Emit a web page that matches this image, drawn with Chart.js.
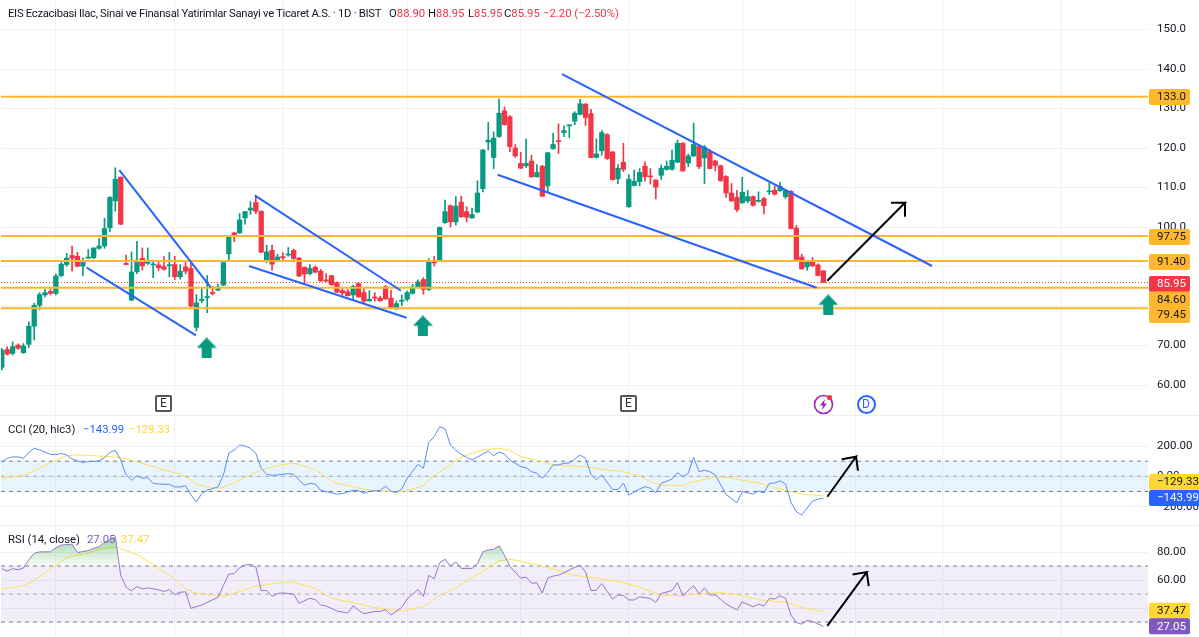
<!DOCTYPE html>
<html>
<head>
<meta charset="utf-8">
<title>EIS</title>
<script src="https://cdn.jsdelivr.net/npm/chart.js@4"></script>
<style>
    html, body { margin: 0; padding: 0; background: #fff; }
    body { width: 1199px; height: 637px; overflow: hidden; position: relative; font-family: Roboto, sans-serif; color: #131722; }
    canvas { position: absolute; left: 1px; }
    .sep { position: absolute; left: 0; width: 1199px; height: 1px; background: #eceef2; }
    .txt { position: absolute; font-size: 11.3px; line-height: 16px; white-space: nowrap; }
    .red { color: #f23645; }
    .ev { position: absolute; box-sizing: border-box; text-align: center; font-size: 12px; background: #fff; }
    .ev-e { width: 17px; height: 17px; top: 395px; border: 2px solid #555; border-radius: 2px; line-height: 13px; color: #333; }
    .ev-d { width: 19px; height: 19px; top: 394.5px; left: 856.5px; border: 2px solid #2962ff; border-radius: 50%; line-height: 15px; color: #2962ff; }
</style>
</head>
<body>
<canvas id="priceChart" width="1198" height="415" style="top:0"></canvas>
<div class="sep" style="top:415px"></div>
<canvas id="cciChart" width="1198" height="109" style="top:416px"></canvas>
<div class="sep" style="top:525px"></div>
<canvas id="rsiChart" width="1198" height="111" style="top:526px"></canvas>

<div class="txt" style="top:6px;left:8px;letter-spacing:-0.3px">EIS Eczacibasi Ilac, Sinai ve Finansal Yatirimlar Sanayi ve Ticaret A.S. · 1D · BIST</div>
<div class="txt" style="top:6px;left:389px">O<span class="red">88.90</span></div>
<div class="txt" style="top:6px;left:428px">H<span class="red">88.95</span></div>
<div class="txt" style="top:6px;left:468px">L<span class="red">85.95</span></div>
<div class="txt" style="top:6px;left:504px">C<span class="red">85.95</span></div>
<div class="txt red" style="top:6px;left:543px">−2.20 (−2.50%)</div>
<div class="txt" style="top:422px;left:8px">CCI (20, hlc3)</div>
<div class="txt" style="top:422px;left:83px;color:#2962ff">−143.99</div>
<div class="txt" style="top:422px;left:129px;color:#fdd835">−129.33</div>
<div class="txt" style="top:532px;left:8px">RSI (14, close)</div>
<div class="txt" style="top:532px;left:87px;color:#7e57c2">27.05</div>
<div class="txt" style="top:532px;left:121px;color:#fdd835">37.47</div>

<div class="ev ev-e" style="left:155px">E</div>
<div class="ev ev-e" style="left:620px">E</div>
<svg style="position:absolute;left:813px;top:394px" width="22" height="21" viewBox="0 0 22 21">
    <circle cx="10.5" cy="10.5" r="9" fill="#fff" stroke="#9c27b0" stroke-width="1.6"/>
    <path d="M12 5 L7 11.5 H10 L9 16 L14 9.5 H11 Z" fill="#9c27b0"/>
    <circle cx="16.5" cy="3.5" r="2.6" fill="#f23645"/>
</svg>
<div class="ev ev-d">D</div>

<script>
const opens = [64.5,69.0,68.0,70.1,68.2,70.3,74.9,80.2,82.8,83.7,83.2,87.7,90.5,92.8,92.6,90.1,92.1,92.2,94.6,95.2,99.8,106.6,112.6,90.8,81.5,88.7,92.1,90.8,90.4,90.4,
    90.0,90.2,90.5,87.4,89.9,89.5,74.6,81.4,82.1,83.4,84.0,85.3,93.2,98.5,98.5,102.3,104.3,106.2,104.0,91.6,94.1,91.5,92.5,92.9,94.1,92.1,89.8,88.2,89.8,88.8,
    86.6,87.7,85.9,83.9,83.6,82.8,85.7,83.4,81.3,82.3,82.0,84.9,82.0,79.6,81.2,81.7,83.2,84.9,86.7,84.2,91.5,91.5,101.1,105.4,101.3,106.3,103.9,102.3,103.8,109.7,
    121.5,117.6,122.9,129.4,127.9,120.0,116.1,115.5,116.7,112.7,115.4,110.4,119.8,121.8,123.9,125.6,126.8,128.5,131.1,128.7,117.6,119.3,123.4,119.0,112.2,116.4,105.1,110.5,111.5,115.4,
    112.9,111.9,113.1,114.6,114.6,116.4,121.2,116.2,118.0,120.5,117.5,119.1,116.7,115.5,112.8,108.6,107.5,106.1,106.6,107.7,106.5,107.2,108.9,109.3,109.2,107.7,109.0,99.7,92.4,89.9,
    91.2,90.4,88.90];
const highs = [69.3,69.7,70.9,70.4,70.5,76.0,80.7,83.4,84.2,84.4,88.1,91.2,93.3,95.2,93.6,92.2,94.3,94.7,97.1,102.2,107.7,115.0,112.7,92.9,93.7,96.4,94.7,94.7,91.6,91.2,
    92.5,93.6,92.6,90.5,91.2,91.0,82.9,84.7,87.7,85.0,85.5,91.0,97.9,98.7,103.4,104.0,106.4,107.9,104.1,95.4,95.4,93.1,93.5,94.8,94.4,92.3,89.9,90.5,90.2,89.3,
    88.2,87.8,86.1,84.7,84.2,85.3,85.9,84.4,83.9,83.4,82.5,85.2,84.0,81.3,82.8,83.8,85.5,86.6,87.2,92.0,92.6,100.0,106.8,105.6,107.7,107.8,105.1,104.8,111.7,119.6,
    126.5,124.1,132.4,130.4,128.3,120.9,118.9,122.3,118.2,115.8,115.6,118.9,123.7,126.1,125.6,125.9,129.2,132.3,131.3,129.8,122.3,124.4,123.6,119.1,115.8,121.2,113.3,114.4,114.8,116.5,
    114.8,112.0,115.7,116.7,119.5,122.0,121.4,118.5,126.3,120.7,120.7,119.6,116.9,115.7,113.0,111.0,109.3,112.6,109.3,107.9,108.9,107.5,111.2,110.4,111.3,109.5,109.2,100.4,93.1,91.5,
    92.3,90.7,88.95];
const lows = [63.8,67.6,67.6,69.0,68.0,69.5,71.4,79.1,82.3,82.8,82.8,87.4,90.1,88.8,89.9,87.7,92.0,92.0,94.4,94.6,98.8,104.0,100.6,90.4,81.3,88.2,89.1,90.5,87.2,88.9,
    89.1,87.4,86.7,86.8,88.1,79.8,73.7,80.8,78.3,82.8,83.9,85.1,91.5,96.3,98.4,100.7,103.2,103.4,93.5,91.0,89.1,91.2,91.4,92.6,91.8,87.4,85.5,87.9,88.4,86.2,
    86.1,85.2,83.4,82.7,82.5,81.7,82.2,80.9,81.2,81.2,81.2,81.7,79.5,79.1,80.1,81.3,83.0,84.7,83.0,83.9,90.1,91.4,100.9,100.0,100.5,102.4,101.3,102.2,103.6,108.9,
    119.5,114.8,122.7,125.8,119.1,117.6,114.8,115.1,112.6,112.6,107.7,108.9,119.7,118.6,122.9,122.6,125.9,128.4,125.7,117.5,117.5,118.2,117.1,111.9,111.0,114.0,105.0,110.4,110.4,111.6,
    110.9,107.1,112.0,114.4,114.4,116.3,114.1,115.3,117.8,114.8,111.0,114.7,114.2,111.6,107.5,106.5,103.9,106.0,106.1,105.3,106.3,103.3,108.2,108.1,109.0,107.2,99.5,91.7,89.3,89.1,
    90.0,87.6,85.95];
const closes = [68.8,67.8,69.7,69.3,69.9,74.9,80.2,82.9,83.4,83.2,87.6,90.6,92.1,92.1,90.1,91.4,92.4,94.7,95.2,99.6,107.5,112.1,100.7,90.5,88.6,91.6,90.2,91.0,90.5,89.7,
    89.3,90.4,87.4,88.8,88.8,80.0,80.8,81.7,82.4,83.2,84.8,91.0,97.8,97.6,101.8,103.9,104.8,104.0,93.6,93.7,90.6,92.4,92.2,93.1,92.0,87.6,88.1,89.5,88.6,86.4,
    86.3,85.4,83.5,83.3,82.6,85.0,82.3,81.2,81.7,82.0,81.3,81.8,79.7,80.6,81.5,83.4,84.8,86.1,84.2,91.5,90.9,99.9,103.9,101.3,105.3,102.6,102.5,103.2,108.6,119.5,
    122.0,122.5,128.8,125.9,120.3,118.0,114.9,116.1,112.7,113.8,107.8,118.8,120.9,121.6,124.4,125.8,128.8,131.2,127.7,117.6,118.5,123.9,117.3,112.0,114.9,114.6,112.1,111.6,113.8,112.7,
    112.7,110.1,114.9,115.4,116.9,121.2,114.2,118.0,120.9,115.3,120.2,114.8,115.6,111.7,108.6,106.6,104.4,108.8,107.7,105.5,106.7,105.4,109.1,108.3,110.3,109.2,99.6,91.8,89.4,91.1,
    90.2,87.7,85.95];

const levelValues = [133.0, 97.75, 91.40, 84.60, 79.45];
const lastPrice = 85.95;
const priceTicks = [150, 140, 130, 120, 110, 100, 90, 80, 70, 60];
const priceTickLabels = ['150.0', '140.0', '130.0', '120.0', '110.0', '100.0', '90.00', '80.00', '70.00', '60.00'];
const gridIndexes = [10, 32, 52, 75, 96, 116, 137, 158, 174, 196];

// channel lines and arrows, as [bar index, price]
const trendLines = [
    [[21.74, 114.43], [38.65, 84.73]],
    [[15.71, 89.7], [35.93, 72.58]],
    [[46.79, 108.03], [73.86, 83.87]],
    [[45.74, 90.13], [74.91, 77.04]],
    [[91.75, 113.24], [150.77, 84.63]],
    [[103.65, 138.73], [172.1, 90.13]]
];
const priceArrow = [[152.73, 86.4], [167.1, 106.15], [164.5, 106.15], [167.1, 106.15], [167.1, 102.6]];
const buyArrowX = [37.9, 77.9, 152.9];
const buyArrowY = [69.4, 75.0, 80.3];

const cciX = [0,1,2,3,4,5,6,7,9,10,11,12,13,15,16,18,19,20,21,22,23,24,25,26,27,28,29,31,32,33,34,35,36,37,38,40,41,42,43,44,45,46,47,48,49,50,51,53,54,55,56,57,58,59,60,62,63,65,66,67,68,70,71,72,73,74,75,77,78,79,80,81,82,83,84,85,86,87,89,90,91,92,93,94,96,97,98,99,100,101,102,103,104,105,107,108,109,110,111,113,114,115,116,118,119,120,121,122,124,125,126,127,128,129,130,131,132,134,136,137,139,140,141,142,143,144,145,146,147,148,150,151,152];
const cciValues = [92,119,128,128,119,158,185,174,145,143,150,141,114,92,97,101,123,158,172,108,9,-26,4,-13,-9,-46,-51,-53,-70,-70,-62,-123,-169,-114,-92,-70,9,154,172,207,200,185,152,53,13,7,9,18,13,-24,-59,-46,-51,-92,-101,-117,-114,-92,-95,-112,-99,-92,-66,-97,-106,-84,-13,79,53,224,262,326,315,207,172,145,125,108,147,167,136,161,147,108,64,57,31,20,-13,26,75,75,86,88,141,119,13,-24,9,-86,-88,-44,-123,-84,-68,-79,-108,-46,-18,24,-2,20,125,31,40,31,9,-119,-174,-101,-117,-97,-110,-46,-44,-29,-51,-172,-233,-255,-163,-150,-143.99];
const cciMaX = [0,2,4,6,8,10,12,14,18,22,25,28,30,33,35,36,38,40,41,43,45,47,49,52,54,55,58,61,62,65,68,71,73,75,78,79,81,83,84,86,89,92,94,96,99,101,103,108,111,115,118,120,122,126,128,130,132,135,137,141,143,145,148,150,152];
const cciMaValues = [-13,-4,7,37,70,108,136,141,134,125,97,64,42,15,-24,-53,-68,-79,-73,-44,-9,26,53,77,86,79,42,-29,-44,-68,-92,-97,-106,-92,-62,-24,31,75,108,141,174,185,172,130,108,84,73,64,46,31,2,-35,-59,-59,-35,-20,-2,-11,-26,-51,-75,-92,-117,-123,-129.33];
const cciTicks = [200, 0, -200];
const cciTickLabels = ['200.00', '0.00', '−200.00'];
const cciBands = [100, 0, -100];
const cciArrow = [[152.73, -134.7], [158.04, 129.4], [155.4, 112.2], [158.04, 129.4], [158.4, 37]];

const rsiX = [0,1,2,3,4,5,6,7,9,10,11,13,14,16,17,18,19,21,22,23,24,25,26,27,29,30,31,32,33,34,35,37,38,40,41,42,43,44,45,46,47,48,49,50,51,52,54,55,57,58,59,60,62,64,65,66,67,69,70,71,72,74,75,77,78,79,80,81,82,83,84,85,87,88,89,90,91,92,93,94,96,97,98,99,100,101,102,103,104,106,107,108,109,110,111,113,114,115,116,117,118,120,121,122,124,125,126,128,129,130,131,132,134,136,137,139,140,141,142,143,144,145,146,147,148,149,150,152];
const rsiValues = [68.1,66.4,68.1,67.4,68.6,74.6,79.1,80.1,80.1,83.0,84.9,85.6,79.6,81.0,82.7,83.7,86.8,90.9,63.3,54.9,52.3,55.4,53.7,54.4,53.0,51.8,53.2,49.6,51.3,51.6,39.8,42.2,44.1,47.7,56.1,64.3,64.5,68.8,70.7,71.2,69.3,52.5,52.5,48.4,50.4,50.8,49.9,43.4,47.0,46.0,42.2,41.5,37.9,36.5,41.7,38.4,36.0,37.6,37.6,38.8,35.0,40.5,46.5,53.2,48.4,63.3,60.9,72.2,74.8,70.0,72.9,68.3,68.3,71.7,80.1,81.5,82.0,84.4,77.7,69.8,61.4,62.1,57.8,58.0,50.6,61.4,62.8,63.5,65.2,69.1,70.5,65.7,52.5,52.8,57.5,46.3,49.4,48.9,45.8,45.8,48.0,46.8,44.1,50.4,52.5,58.0,48.9,56.1,50.1,54.4,49.4,49.4,42.9,38.6,44.4,41.0,42.7,41.5,46.8,46.5,48.7,47.0,35.0,29.7,28.5,31.2,30.4,27.05];
const rsiMaX = [0,2,4,6,8,10,12,14,16,18,21,22,25,28,30,32,34,36,39,41,43,45,47,49,52,54,55,58,61,65,68,71,73,75,78,79,81,84,87,90,92,94,96,100,103,106,109,114,118,122,126,130,133,137,140,145,148,152];
const rsiMaValues = [53.7,54.7,56.1,59.7,65.0,70.5,76.0,77.7,79.1,82.0,83.7,82.5,78.2,71.0,65.7,60.9,53.7,50.6,49.2,48.4,50.6,53.2,55.6,56.8,58.3,58.7,57.3,54.2,47.0,43.9,41.0,39.3,37.9,38.6,41.0,43.6,48.9,54.4,61.6,68.8,73.6,74.8,73.4,70.0,66.9,63.3,61.9,59.2,54.9,49.2,48.9,50.6,50.8,48.9,46.0,44.1,40.5,37.47];
const rsiTicks = [80, 60, 40];
const rsiTickLabels = ['80.00', '60.00', '40.00'];
const rsiBands = [70, 50, 30];
const rsiArrow = [[152.73, 27.3], [160.02, 65.7], [157.4, 64.0], [160.02, 65.7], [160.4, 55.6]];

const GREEN = '#089981';
const RED = '#f23645';
const ORANGE = '#ffb82e';
const BLUE = '#2962ff';
const X_MIN = -0.148;
const X_MAX = 212.06;

function toPoints(xs, ys) {
    return xs.map(function (x, i) { return { x: x, y: ys[i] }; });
}

function pairsToPoints(pairs) {
    return pairs.map(function (p) { return { x: p[0], y: p[1] }; });
}

function lineSet(points, color, width, extra) {
    return Object.assign({
        type: 'line',
        data: points,
        borderColor: color,
        borderWidth: width,
        pointRadius: 0,
        tension: 0,
        fill: false
    }, extra || {});
}

function hline(value, color, width, extra) {
    return lineSet([{ x: X_MIN, y: value }, { x: X_MAX, y: value }], color, width, extra);
}

// right side value tags, drawn over the axis labels
const tagPlugin = {
    id: 'valueTags',
    afterDraw: function (chart) {
        const ctx = chart.ctx;
        const tags = chart.options.plugins.valueTags.tags;
        ctx.save();
        ctx.font = '11.5px Roboto, sans-serif';
        ctx.textBaseline = 'middle';
        ctx.textAlign = 'left';
        tags.forEach(function (t) {
            const w = t.text.length > 5 ? 51 : 41;
            ctx.fillStyle = t.bg;
            ctx.beginPath();
            ctx.roundRect(1148, t.y - 8, w, 16, 2);
            ctx.fill();
            ctx.fillStyle = t.fg;
            ctx.fillText(t.text, 1156, t.y + 0.5);
        });
        ctx.restore();
    }
};

function makePane(id, yMin, yMax, yTicks, yLabels, datasets, tags) {
    return new Chart(document.getElementById(id), {
        type: 'bar',
        data: { datasets: datasets },
        plugins: [tagPlugin],
        options: {
            responsive: false,
            animation: false,
            layout: { padding: 0, autoPadding: false },
            datasets: { bar: { grouped: false } },
            plugins: {
                legend: { display: false },
                tooltip: { enabled: false },
                valueTags: { tags: tags }
            },
            scales: {
                x: {
                    type: 'linear',
                    min: X_MIN,
                    max: X_MAX,
                    offset: false,
                    border: { display: false },
                    grid: { color: '#f0f1f4', drawTicks: false, offset: false },
                    ticks: { display: false },
                    afterBuildTicks: function (scale) {
                        scale.ticks = gridIndexes.map(function (v) { return { value: v }; });
                    },
                    afterFit: function (scale) { scale.height = 0; }
                },
                y: {
                    position: 'right',
                    min: yMin,
                    max: yMax,
                    border: { display: false },
                    grid: { color: '#f0f1f4', drawTicks: false },
                    ticks: {
                        padding: 9,
                        color: '#131722',
                        font: { family: 'Roboto, sans-serif', size: 11.5 },
                        autoSkip: false,
                        callback: function (value) {
                            const at = yTicks.indexOf(value);
                            return at < 0 ? '' : yLabels[at];
                        }
                    },
                    afterBuildTicks: function (scale) {
                        scale.ticks = yTicks.map(function (v) { return { value: v }; });
                    },
                    afterFit: function (scale) {
                        scale.width = 51;
                        scale.paddingTop = 0;
                        scale.paddingBottom = 0;
                    }
                }
            }
        }
    });
}

function buyArrowGlyph() {
    const c = document.createElement('canvas');
    c.width = 20;
    c.height = 21;
    const g = c.getContext('2d');
    g.fillStyle = GREEN;
    g.beginPath();
    g.moveTo(10, 0);
    g.lineTo(20, 10.5);
    g.lineTo(15, 10.5);
    g.lineTo(15, 21);
    g.lineTo(5, 21);
    g.lineTo(5, 10.5);
    g.lineTo(0, 10.5);
    g.closePath();
    g.fill();
    return c;
}

const candleColors = closes.map(function (c, i) { return c >= opens[i] ? GREEN : RED; });

const priceDatasets = [
    lineSet(pairsToPoints(priceArrow), '#000', 2),
    lineSet(toPoints(buyArrowX, buyArrowY), GREEN, 0, { showLine: false, pointRadius: 10, pointStyle: buyArrowGlyph() })
];
trendLines.forEach(function (t) {
    priceDatasets.push(lineSet(pairsToPoints(t), BLUE, 2));
});
levelValues.forEach(function (v) {
    priceDatasets.push(hline(v, ORANGE, 2));
});
priceDatasets.push(hline(lastPrice, RED, 1, { borderDash: [1, 2] }));
priceDatasets.push({
    data: closes.map(function (c, i) { return { x: i, y: [opens[i], c] }; }),
    backgroundColor: candleColors,
    barThickness: 4.6,
    minBarLength: 1
});
priceDatasets.push({
    data: closes.map(function (c, i) { return { x: i, y: [lows[i], highs[i]] }; }),
    backgroundColor: candleColors,
    barThickness: 1
});

makePane('priceChart', 52.41, 157.47, priceTicks, priceTickLabels, priceDatasets, [
    { text: '133.0', y: 97, bg: ORANGE, fg: '#131722' },
    { text: '97.75', y: 237, bg: ORANGE, fg: '#131722' },
    { text: '91.40', y: 262, bg: ORANGE, fg: '#131722' },
    { text: '85.95', y: 284, bg: RED, fg: '#fff' },
    { text: '84.60', y: 299.5, bg: ORANGE, fg: '#131722' },
    { text: '79.45', y: 315, bg: ORANGE, fg: '#131722' }
]);

makePane('cciChart', -321, 398, cciTicks, cciTickLabels, [
    lineSet(pairsToPoints(cciArrow), '#000', 2),
    lineSet(toPoints(cciX, cciValues), '#5b8af5', 1),
    lineSet(toPoints(cciMaX, cciMaValues), '#fde05a', 1),
    hline(cciBands[0], '#787b86', 1, { borderDash: [4, 4] }),
    hline(cciBands[1], '#a9abb3', 1, { borderDash: [4, 4] }),
    hline(cciBands[2], '#787b86', 1, { borderDash: [4, 4] }),
    hline(cciBands[0], 'rgba(0,0,0,0)', 0, { fill: { value: cciBands[2] }, backgroundColor: 'rgba(33,150,243,0.1)' })
], [
    { text: '−129.33', y: 66, bg: '#fdd835', fg: '#131722' },
    { text: '−143.99', y: 82, bg: BLUE, fg: '#fff' }
]);

// gradient under the overbought part of the RSI line
const rsiCanvas = document.getElementById('rsiChart');
const rsiMin = 19.35;
const rsiMax = 98.56;
const rsiPix = function (v) { return (rsiMax - v) / (rsiMax - rsiMin) * rsiCanvas.height; };
const rsiGlow = rsiCanvas.getContext('2d').createLinearGradient(0, rsiPix(92), 0, rsiPix(70));
rsiGlow.addColorStop(0, 'rgba(76,175,80,0.55)');
rsiGlow.addColorStop(1, 'rgba(76,175,80,0.04)');

makePane('rsiChart', rsiMin, rsiMax, rsiTicks, rsiTickLabels, [
    lineSet(pairsToPoints(rsiArrow), '#000', 2),
    lineSet(toPoints(rsiX, rsiValues), '#9575cd', 1, { fill: { value: 70, above: rsiGlow, below: 'rgba(0,0,0,0)' } }),
    lineSet(toPoints(rsiMaX, rsiMaValues), '#fde05a', 1),
    hline(rsiBands[0], '#787b86', 1, { borderDash: [4, 4] }),
    hline(rsiBands[1], '#a9abb3', 1, { borderDash: [4, 4] }),
    hline(rsiBands[2], '#787b86', 1, { borderDash: [4, 4] }),
    hline(rsiBands[0], 'rgba(0,0,0,0)', 0, { fill: { value: rsiBands[2] }, backgroundColor: 'rgba(126,87,194,0.1)' })
], [
    { text: '37.47', y: 84.7, bg: '#fdd835', fg: '#131722' },
    { text: '27.05', y: 100.3, bg: '#7e57c2', fg: '#fff' }
]);
</script>
</body>
</html>
